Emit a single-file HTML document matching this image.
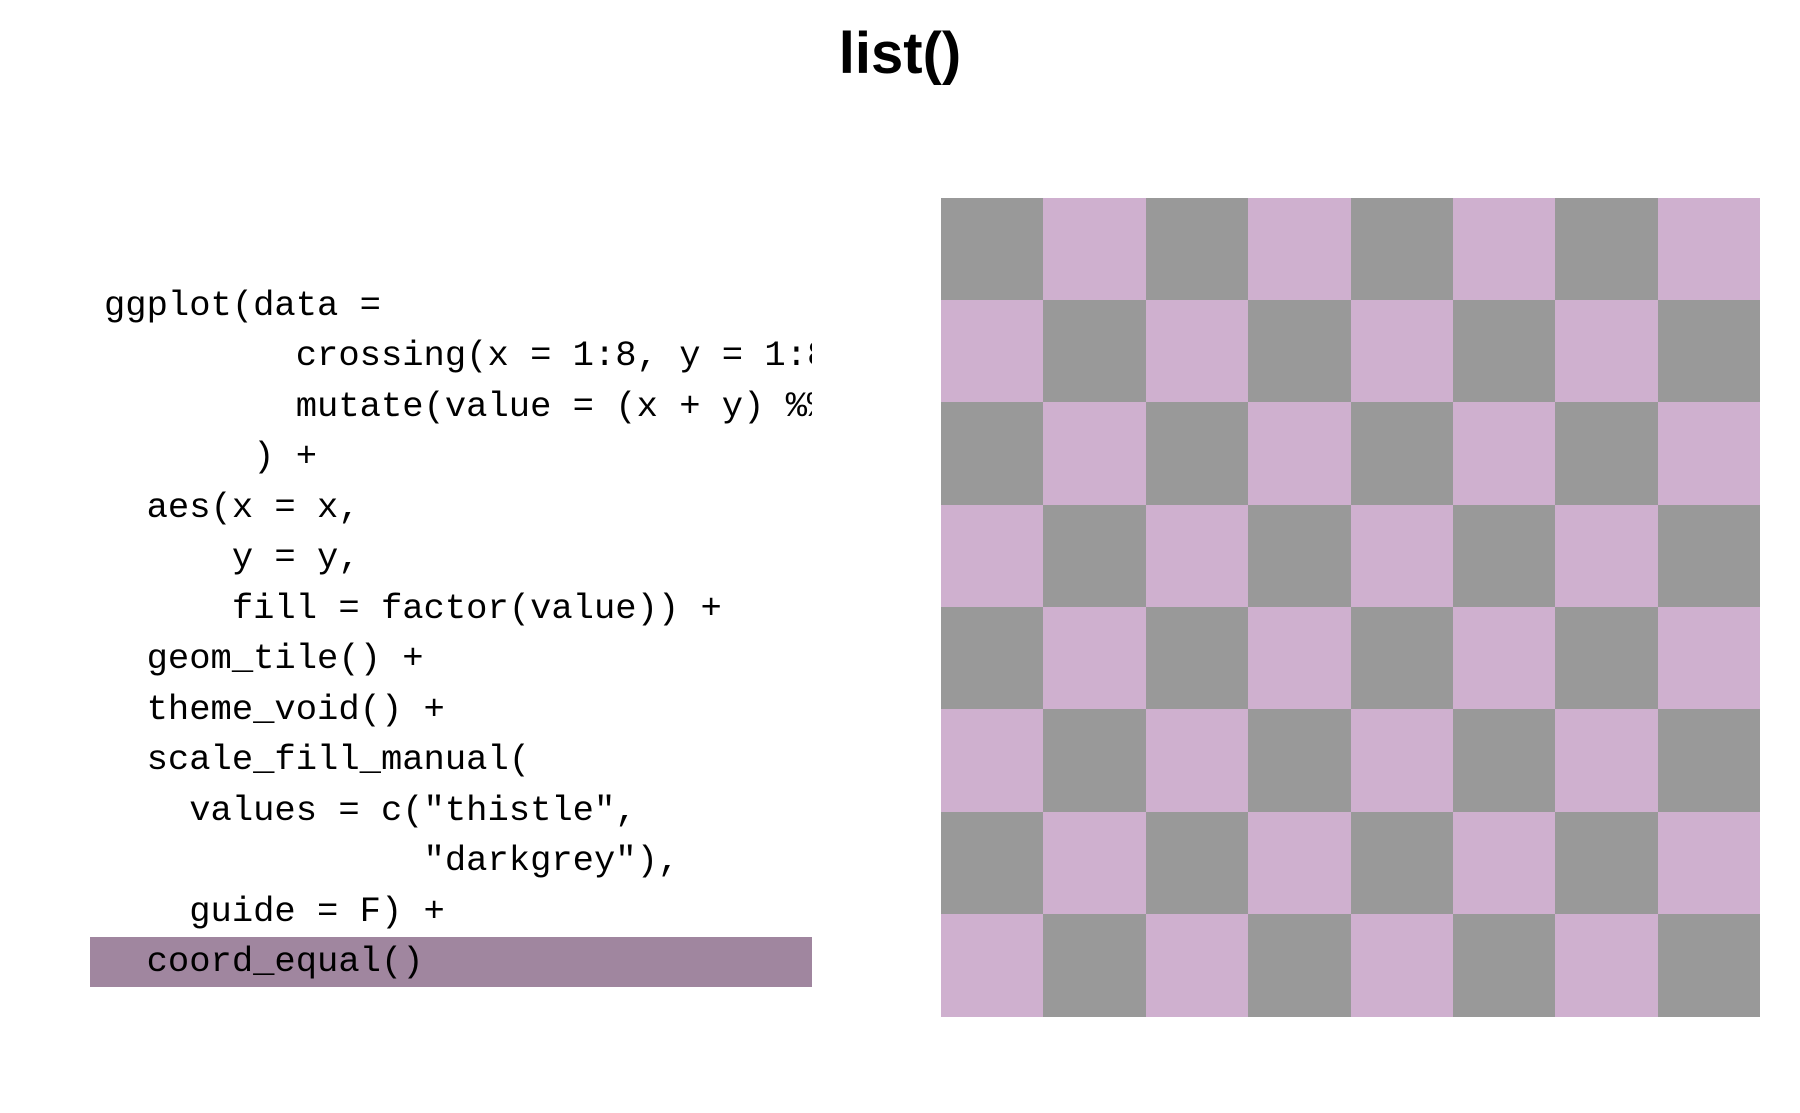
<!DOCTYPE html>
<html><head><meta charset="utf-8"><style>
html,body{margin:0;padding:0;background:#fff;width:1800px;height:1113px;overflow:hidden;position:relative}
.title{position:absolute;left:0;width:1800px;top:20px;text-align:center;font:bold 58px "Liberation Sans",sans-serif;color:#000}
.hl{position:absolute;left:90px;top:937px;width:722px;height:50px;background:#a0869f}
.code{position:absolute;left:104px;top:280.6px;width:708px;overflow:hidden;margin:0;font:35.5px/50.5px "Liberation Mono",monospace;color:#000;white-space:pre}
.grid{position:absolute;left:941px;top:197.5px;width:819px;height:819px;display:grid;grid-template-columns:repeat(8,102.375px);grid-template-rows:repeat(8,102.375px)}
.g{background:#999999}.t{background:#cfb0cf}
</style></head><body>
<div class="title">list()</div>
<div class="hl"></div>
<pre class="code">ggplot(data =
         crossing(x = 1:8, y = 1:8) %&gt;%
         mutate(value = (x + y) %% 2)
       ) +
  aes(x = x,
      y = y,
      fill = factor(value)) +
  geom_tile() +
  theme_void() +
  scale_fill_manual(
    values = c("thistle",
               "darkgrey"),
    guide = F) +
  coord_equal()</pre>
<div class="grid">
<div class="g"></div><div class="t"></div><div class="g"></div><div class="t"></div><div class="g"></div><div class="t"></div><div class="g"></div><div class="t"></div>
<div class="t"></div><div class="g"></div><div class="t"></div><div class="g"></div><div class="t"></div><div class="g"></div><div class="t"></div><div class="g"></div>
<div class="g"></div><div class="t"></div><div class="g"></div><div class="t"></div><div class="g"></div><div class="t"></div><div class="g"></div><div class="t"></div>
<div class="t"></div><div class="g"></div><div class="t"></div><div class="g"></div><div class="t"></div><div class="g"></div><div class="t"></div><div class="g"></div>
<div class="g"></div><div class="t"></div><div class="g"></div><div class="t"></div><div class="g"></div><div class="t"></div><div class="g"></div><div class="t"></div>
<div class="t"></div><div class="g"></div><div class="t"></div><div class="g"></div><div class="t"></div><div class="g"></div><div class="t"></div><div class="g"></div>
<div class="g"></div><div class="t"></div><div class="g"></div><div class="t"></div><div class="g"></div><div class="t"></div><div class="g"></div><div class="t"></div>
<div class="t"></div><div class="g"></div><div class="t"></div><div class="g"></div><div class="t"></div><div class="g"></div><div class="t"></div><div class="g"></div>
</div>
</body></html>
